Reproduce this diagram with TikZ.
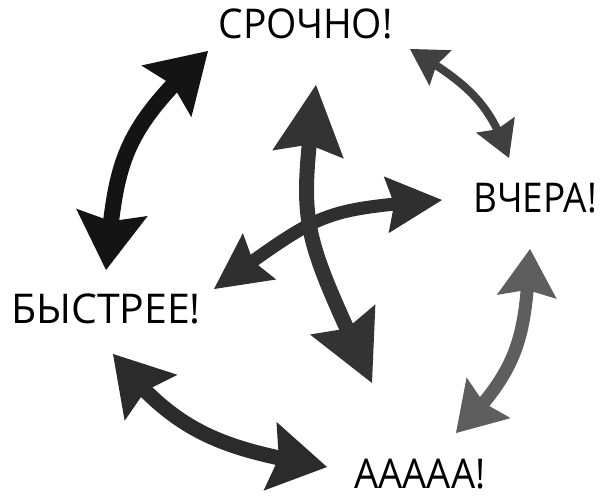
\documentclass[tikz,border=0pt]{standalone}
\usepackage{fontspec}
\setmainfont{Open Sans}
\usetikzlibrary{arrows.meta,bending}
\definecolor{cA}{HTML}{141414}
\definecolor{cB}{HTML}{404040}
\definecolor{cC}{HTML}{5E5E5E}
\definecolor{cD}{HTML}{2B2B2B}
\definecolor{cV}{HTML}{333333}
\definecolor{cH}{HTML}{2F2F2F}
\begin{document}
\begin{tikzpicture}[x=1pt,y=-1pt,
  lbl/.style={font=\fontsize{41}{45}\selectfont, inner sep=0pt, anchor=base, text=black},
  arr/.style n args={5}{draw=#1, line width=#2, line cap=butt,
    arrows={Stealth[length=#3,width=#4,inset=#5,line width=0pt]-Stealth[length=#3,width=#4,inset=#5,line width=0pt]}}]
\useasboundingbox[fill=white] (0,0) rectangle (602,497);

\node[lbl] (srochno) at (305.5,39) {\scalebox{0.95}[1]{СРОЧНО!}};
\node[lbl] (vchera)  at (535,212) {\scalebox{0.9}[1]{ВЧЕРА!}};
\node[lbl] (bystree) at (106,323) {\scalebox{1.0}[1]{БЫСТРЕЕ!}};
\node[lbl] (aaaaa)   at (420,488) {\scalebox{0.93}[1]{ААААА!}};

% arrow ends
\coordinate (a1s) at (208,51);  \coordinate (a1e) at (106,270);
\coordinate (a2s) at (410,49);  \coordinate (a2e) at (509,158);
\coordinate (a3s) at (530,249); \coordinate (a3e) at (456,433);
\coordinate (a4s) at (113,354); \coordinate (a4e) at (327,467);
\coordinate (vs) at (316,85);   \coordinate (ve) at (372,383);
\coordinate (hs) at (214,289);  \coordinate (he) at (442,200);

\draw[arr={cA}{16pt}{58pt}{72pt}{9pt}] (a1s) .. controls (117.7,133.5) and (116.3,164.9) .. (a1e);
\draw[arr={cB}{8pt}{36pt}{42pt}{5pt}] (a2s) .. controls (472.3,86.1) and (490.6,106.1) .. (a2e);
\draw[arr={cC}{13pt}{48pt}{60pt}{7pt}] (a3s) .. controls (525,334) and (522.3,366.7) .. (a3e);
\draw[arr={cD}{15pt}{58pt}{70pt}{9pt}] (a4s) .. controls (176.3,434.6) and (223.7,449.2) .. (a4e);
\draw[arr={cH}{13pt}{56pt}{57pt}{8pt}] (hs) .. controls (323,211) and (317,210) .. (he);
\draw[arr={cV}{15pt}{70pt}{72pt}{10pt}] (vs) .. controls (299,229) and (298,223) .. (ve);
\end{tikzpicture}
\end{document}
